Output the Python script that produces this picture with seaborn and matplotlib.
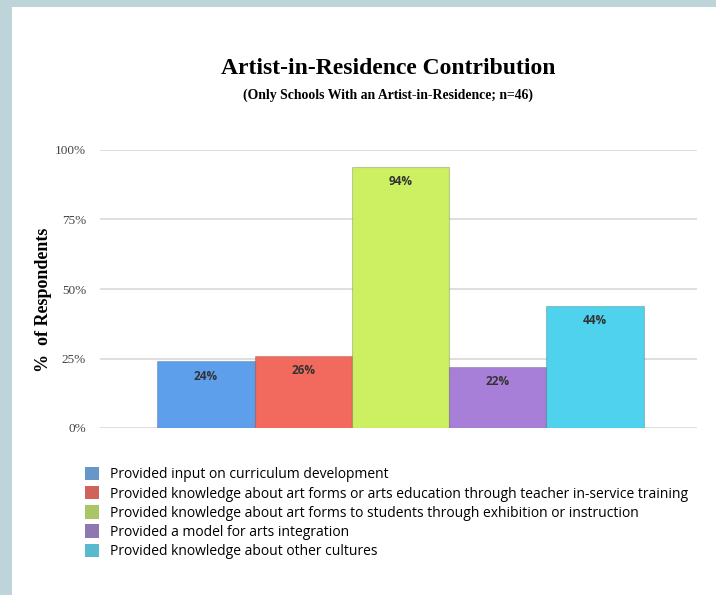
import matplotlib.pyplot as plt
import seaborn as sns
import pandas as pd
from matplotlib.patches import Patch, Rectangle

# data
categories = [
    "Provided input on curriculum development",
    "Provided knowledge about art forms or arts education through teacher in-service training",
    "Provided knowledge about art forms to students through exhibition or instruction",
    "Provided a model for arts integration",
    "Provided knowledge about other cultures",
]
values = [24, 26, 94, 22, 44]
bar_colors = ["#5E9FEC", "#F26A5E", "#CDF062", "#A77FD8", "#4FD2EE"]
legend_colors = ["#6796C9", "#D0625C", "#A9C566", "#8E78B2", "#59B9CE"]
ytick_vals = [0, 25, 50, 75, 100]
ytick_labels = ["0%", "25%", "50%", "75%", "100%"]

df = pd.DataFrame({"cat": categories, "val": values})

sns.set_theme(style="white")
fig = plt.figure(figsize=(7.16, 5.95), dpi=100)
fig.patch.set_facecolor("#BDD5D8")
fig.patches.append(Rectangle((12 / 716, 0), 1, 1 - 7 / 595, transform=fig.transFigure,
                             facecolor="white", edgecolor="none", zorder=-5))

ax = fig.add_axes([100 / 716, 1 - 428 / 595, 597 / 716, 278 / 595])
ax.set_facecolor("none")

sns.barplot(data=df, x="cat", y="val", hue="cat", palette=bar_colors, width=1.0,
            saturation=1, dodge=False, legend=False, ax=ax, edgecolor="#00000030",
            linewidth=0.8, zorder=3)

for i, v in enumerate(values):
    ax.text(i, v - 3, f"{v}%", ha="center", va="top", fontsize=8.5,
            fontweight="bold", color="#333333", family="Open Sans", zorder=4)

ax.set_ylim(0, 100)
ax.set_xlim(-1.09, 5.05)
ax.set_yticks(ytick_vals)
ax.set_yticklabels(ytick_labels, family="Liberation Serif", fontsize=9.5, color="#444444")
ax.tick_params(axis="y", length=0, pad=10)
ax.set_xticks([])
ax.set_xlabel("")
ax.set_ylabel("")
for y in ytick_vals:
    ax.axhline(y, color="#DCDCDC", linewidth=1.3, zorder=1)
sns.despine(ax=ax, left=True, bottom=True)

fig.text(43 / 716, 1 - 300 / 595, "%  of Respondents", rotation=90, ha="center",
         va="center", family="Liberation Serif", fontweight="bold", fontsize=13,
         color="black")

fig.text(388 / 716, 1 - 69 / 595, "Artist-in-Residence Contribution", ha="center",
         va="center", family="Liberation Serif", fontweight="bold", fontsize=17,
         color="black")
fig.text(388 / 716, 1 - 95 / 595, "(Only Schools With an Artist-in-Residence; n=46)",
         ha="center", va="center", family="Liberation Serif", fontweight="bold",
         fontsize=9.9, color="black")

handles = [Patch(facecolor=c, edgecolor="none") for c in legend_colors]
fig.legend(handles, categories, loc="upper left",
           bbox_to_anchor=(85 / 716, 1 - 467 / 595), frameon=False,
           prop={"family": "Open Sans", "size": 10}, handlelength=1.0,
           handleheight=1.1, handletextpad=0.8, labelspacing=0.27,
           borderaxespad=0, borderpad=0, labelcolor="black")

fig.savefig("out.png", dpi=100)
